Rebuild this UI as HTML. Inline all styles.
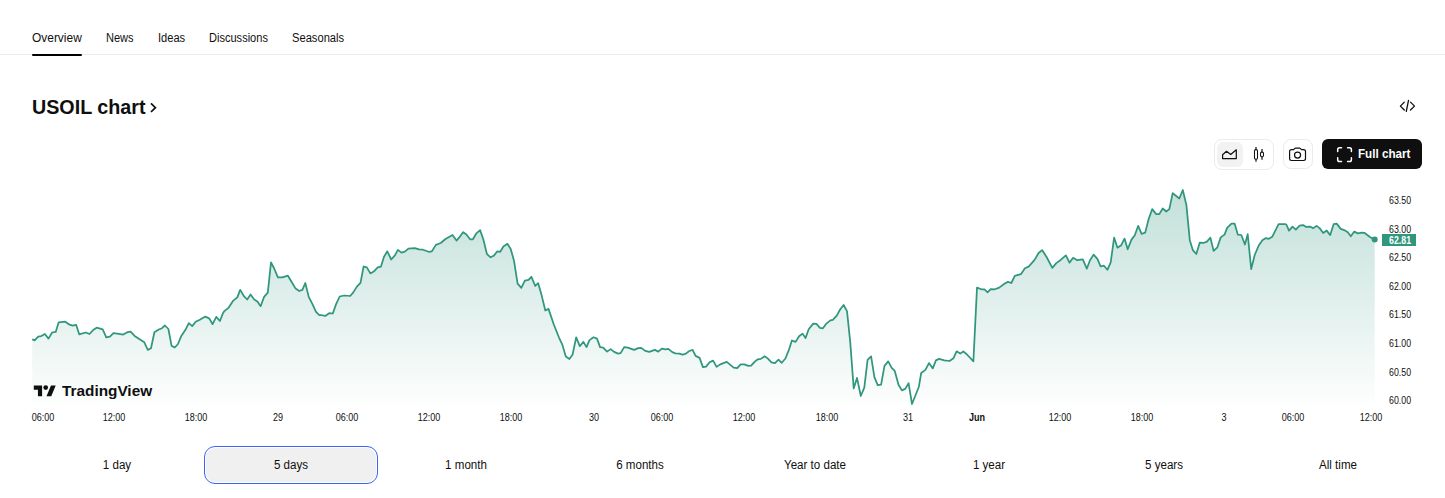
<!DOCTYPE html>
<html><head><meta charset="utf-8"><style>
html,body{margin:0;padding:0;background:#fff;}
body{width:1445px;height:498px;overflow:hidden;position:relative;font-family:"Liberation Sans", sans-serif;}
</style></head><body>
<div style="position:absolute;left:32px;top:32px;font-size:12px;font-weight:400;color:#0f0f0f;white-space:nowrap;line-height:1;transform:scaleX(0.995);transform-origin:0 0;">Overview</div>
<div style="position:absolute;left:105.5px;top:32px;font-size:12px;font-weight:400;color:#0f0f0f;white-space:nowrap;line-height:1;transform:scaleX(0.92);transform-origin:0 0;">News</div>
<div style="position:absolute;left:157.6px;top:32px;font-size:12px;font-weight:400;color:#0f0f0f;white-space:nowrap;line-height:1;transform:scaleX(0.925);transform-origin:0 0;">Ideas</div>
<div style="position:absolute;left:209.3px;top:32px;font-size:12px;font-weight:400;color:#0f0f0f;white-space:nowrap;line-height:1;transform:scaleX(0.92);transform-origin:0 0;">Discussions</div>
<div style="position:absolute;left:291.8px;top:32px;font-size:12px;font-weight:400;color:#0f0f0f;white-space:nowrap;line-height:1;transform:scaleX(0.93);transform-origin:0 0;">Seasonals</div>
<div style="position:absolute;left:0;top:54px;width:1445px;height:1px;background:#ebebeb"></div>
<div style="position:absolute;left:32px;top:54px;width:50px;height:2px;background:#000;border-radius:1px"></div>
<div style="position:absolute;left:32px;top:97px;font-size:20px;font-weight:700;color:#0f0f0f;white-space:nowrap;line-height:1;transform:scaleX(0.985);transform-origin:0 0;">USOIL chart</div>
<svg style="position:absolute;left:0;top:0" width="1445" height="498"><path d="M151,103.4 L155.4,107.7 L151,112" fill="none" stroke="#0f0f0f" stroke-width="1.7"/><path d="M1404.3,102.1 L1400.4,106.1 L1404.3,110 M1408.5,100.4 L1406.3,111.4 M1410.5,102.1 L1414.5,106.1 L1410.5,110" fill="none" stroke="#0f0f0f" stroke-width="1.3" stroke-linecap="round" stroke-linejoin="round"/></svg>
<div style="position:absolute;left:1214px;top:139px;width:58px;height:29px;border:1px solid #ebebeb;border-radius:8px"></div>
<div style="position:absolute;left:1217px;top:142px;width:26px;height:25px;background:#f2f2f2;border-radius:6px"></div>
<div style="position:absolute;left:1283px;top:139px;width:28px;height:28px;border:1px solid #ebebeb;border-radius:8px"></div>
<div style="position:absolute;left:1322px;top:139px;width:100px;height:30px;background:#0f0f0f;border-radius:6px"></div>
<div style="position:absolute;left:1357.5px;top:148px;font-size:12px;font-weight:700;color:#fff;white-space:nowrap;line-height:1;transform:scaleX(0.97);transform-origin:0 0;">Full chart</div>
<svg style="position:absolute;left:0;top:0" width="1445" height="498"><path d="M1222.6,158.6 L1222.6,154.7 L1226.5,151.3 L1230.7,154.5 L1236.3,149.8 L1236.3,158.6 Z" fill="none" stroke="#0f0f0f" stroke-width="1.2" stroke-linejoin="round"/><path d="M1256,147 V161.8 M1262,149.1 V159.8" stroke="#0f0f0f" stroke-width="1.2"/><rect x="1254.5" y="149.6" width="3" height="9.7" rx="1.3" fill="#fff" stroke="#0f0f0f" stroke-width="1.05"/><rect x="1260.5" y="152.1" width="3" height="4.6" rx="1.3" fill="#fff" stroke="#0f0f0f" stroke-width="1.05"/><path d="M1289.6,151.5 Q1289.6,149.6 1291.5,149.6 H1293.6 L1294.9,148.3 Q1295.1,148.1 1295.4,148.1 H1299.7 Q1300,148.1 1300.2,148.3 L1301.5,149.6 H1303.6 Q1305.5,149.6 1305.5,151.5 V158.6 Q1305.5,160.5 1303.6,160.5 H1291.5 Q1289.6,160.5 1289.6,158.6 Z" fill="none" stroke="#0f0f0f" stroke-width="1.2" stroke-linejoin="round"/><circle cx="1297.55" cy="155.1" r="3.05" fill="none" stroke="#0f0f0f" stroke-width="1.2"/><path d="M1337.7,151.5 V149.5 Q1337.7,147.7 1339.5,147.7 H1341.5 M1347.6,147.7 H1349.6 Q1351.4,147.7 1351.4,149.5 V151.5 M1351.4,157.7 V159.7 Q1351.4,161.5 1349.6,161.5 H1347.6 M1341.5,161.5 H1339.5 Q1337.7,161.5 1337.7,159.7 V157.7" fill="none" stroke="#fff" stroke-width="1.5" stroke-linecap="round"/></svg>
<svg style="position:absolute;left:0;top:0" width="1445" height="498">
<defs><linearGradient id="g" x1="0" y1="185" x2="0" y2="404" gradientUnits="userSpaceOnUse">
<stop offset="0" stop-color="#30967d" stop-opacity="0.30"/>
<stop offset="1" stop-color="#30967d" stop-opacity="0.01"/>
</linearGradient></defs>
<path d="M32.2,339.2 L34.6,340.4 L38.2,336.7 L41.3,336.1 L44.9,334.0 L48.5,338.6 L52.1,332.5 L55.7,331.9 L58.7,322.3 L65.3,321.7 L69.6,324.7 L72.6,325.7 L76.2,324.9 L79.2,334.3 L85.8,332.5 L89.4,334.0 L93.1,330.1 L96.7,327.7 L102.7,329.3 L106.3,337.3 L109.9,336.7 L113.5,333.1 L117.2,333.7 L123.2,334.6 L127.4,332.2 L130.6,331.7 L134.6,335.9 L144.3,342.3 L147.8,349.9 L151.0,348.3 L154.4,332.2 L158.8,329.5 L162.0,328.2 L164.9,325.5 L168.4,329.0 L171.6,345.9 L174.8,347.5 L178.0,344.0 L181.3,335.9 L185.3,330.1 L188.8,323.1 L192.2,326.1 L195.7,321.8 L199.8,319.7 L205.4,316.6 L209.4,318.6 L212.6,324.2 L216.3,316.9 L219.9,321.0 L223.1,312.9 L224.4,311.1 L228.4,307.9 L233.3,300.6 L237.3,297.4 L240.2,289.9 L243.7,295.8 L247.2,299.5 L250.6,294.5 L254.2,299.5 L257.4,301.4 L260.6,306.2 L264.1,296.9 L267.8,292.6 L271.0,262.4 L274.2,268.5 L277.9,277.3 L282.3,277.3 L287.9,275.7 L292.7,283.8 L295.6,288.6 L299.2,291.0 L302.4,289.9 L305.3,283.0 L308.8,297.1 L312.0,303.1 L316.0,311.9 L319.3,315.1 L320.7,315.0 L325.2,315.9 L329.2,313.2 L332.8,313.5 L336.1,304.1 L339.7,296.5 L344.2,295.5 L350.2,296.0 L353.3,292.4 L356.9,286.6 L360.5,282.8 L363.6,266.5 L366.8,267.4 L370.4,273.4 L373.7,271.6 L377.7,267.4 L380.9,266.7 L384.0,256.8 L387.3,251.3 L391.2,259.5 L394.9,255.3 L397.9,249.9 L401.5,252.6 L404.8,251.7 L408.4,248.6 L414.7,248.1 L419.0,249.4 L423.0,249.7 L428.7,251.8 L431.9,251.3 L435.9,244.9 L440.7,243.0 L445.5,239.0 L452.5,235.0 L456.5,240.6 L459.7,236.9 L463.2,232.1 L466.4,234.5 L470.1,239.3 L472.9,239.3 L476.1,233.7 L480.1,230.1 L483.3,239.3 L487.0,254.2 L490.6,257.3 L494.1,255.4 L497.3,251.3 L500.2,251.8 L503.4,246.5 L507.4,243.8 L510.7,248.9 L514.0,260.7 L517.6,283.6 L521.3,287.9 L524.9,280.7 L528.5,279.9 L531.4,276.8 L535.2,286.0 L538.1,283.1 L541.7,295.6 L545.3,310.5 L548.5,308.9 L553.8,324.5 L559.1,337.8 L562.2,344.3 L565.8,356.6 L569.4,359.0 L572.6,354.6 L576.2,337.3 L579.8,346.2 L583.4,341.9 L586.5,347.1 L589.5,340.1 L593.5,337.3 L597.0,338.6 L600.1,347.1 L603.1,347.6 L607.1,351.6 L610.6,349.1 L614.1,351.9 L618.1,353.6 L620.6,353.1 L624.2,347.1 L627.7,347.6 L634.2,349.9 L638.2,348.1 L641.2,347.9 L645.2,350.9 L649.3,351.9 L654.8,349.9 L658.3,351.6 L661.8,348.6 L665.3,349.3 L668.3,348.8 L672.3,352.1 L675.4,353.4 L679.4,353.6 L682.5,354.6 L685.5,353.9 L689.0,351.3 L692.6,349.8 L695.6,355.9 L699.6,357.9 L702.9,367.1 L706.1,366.6 L709.6,362.3 L713.1,360.6 L716.6,366.9 L720.2,364.4 L726.7,361.9 L733.7,367.7 L737.2,368.2 L740.7,364.3 L744.3,364.4 L748.3,365.9 L751.1,365.6 L754.8,361.6 L757.8,359.3 L760.8,358.9 L764.6,356.3 L767.9,358.6 L771.4,362.3 L774.9,363.1 L778.5,359.6 L781.7,362.8 L785.4,358.5 L788.7,350.4 L791.9,340.5 L795.6,341.9 L799.1,336.3 L802.6,333.6 L805.5,338.1 L808.7,329.2 L813.2,323.6 L816.4,323.9 L820.0,327.9 L822.9,328.3 L826.4,323.6 L830.4,320.4 L832.8,319.9 L836.8,315.6 L840.1,309.5 L843.6,305.0 L847.0,311.1 L850.2,341.6 L853.7,388.5 L857.0,377.9 L860.8,396.0 L864.3,387.7 L867.6,359.8 L871.1,356.4 L874.4,377.2 L877.7,385.2 L881.1,384.7 L884.5,365.9 L888.2,361.4 L891.7,367.8 L894.7,370.8 L898.5,384.7 L901.9,390.4 L905.2,388.9 L908.6,383.2 L912.0,404.0 L915.5,395.2 L918.8,387.0 L921.2,373.0 L925.4,369.9 L929.0,363.1 L932.8,368.4 L935.9,360.4 L939.1,358.9 L944.3,360.4 L949.6,361.0 L953.4,358.3 L956.6,351.3 L960.2,353.6 L963.3,351.5 L966.5,354.0 L973.4,361.4 L977.0,287.6 L981.2,289.3 L984.4,289.3 L987.6,292.3 L990.7,289.1 L994.9,289.3 L999.2,287.6 L1004.8,283.5 L1008.0,281.9 L1011.3,283.0 L1014.8,275.8 L1020.9,274.2 L1024.9,268.2 L1028.6,266.6 L1034.6,259.9 L1038.6,253.0 L1042.1,250.1 L1046.6,257.0 L1052.3,267.9 L1056.3,263.1 L1060.3,260.2 L1065.9,255.4 L1069.5,262.6 L1073.2,257.8 L1077.2,260.2 L1082.8,259.4 L1086.8,268.7 L1090.0,260.2 L1093.6,254.6 L1097.4,258.9 L1100.6,266.3 L1104.0,265.7 L1107.4,269.8 L1110.7,262.3 L1114.1,237.6 L1117.5,247.7 L1121.1,245.3 L1124.5,238.6 L1127.7,249.3 L1131.5,239.6 L1134.8,235.2 L1138.2,225.8 L1141.6,233.8 L1145.2,232.6 L1148.6,219.2 L1152.2,209.1 L1156.2,214.1 L1159.3,214.1 L1162.7,208.5 L1166.3,211.5 L1169.3,209.1 L1172.7,193.1 L1179.3,198.5 L1182.8,190.0 L1186.4,205.1 L1189.8,240.2 L1192.8,250.1 L1196.3,254.0 L1199.8,242.6 L1204.1,242.8 L1206.9,241.6 L1210.4,237.7 L1213.6,250.8 L1217.4,247.3 L1220.7,237.4 L1224.5,234.6 L1227.3,227.6 L1231.5,223.6 L1234.6,223.6 L1237.8,234.6 L1241.3,235.0 L1244.9,244.5 L1247.7,234.2 L1251.2,269.1 L1254.7,255.0 L1258.9,245.2 L1262.4,240.2 L1265.9,238.1 L1268.8,238.8 L1272.3,236.7 L1278.6,224.1 L1285.6,224.1 L1286.5,224.9 L1289.0,230.6 L1292.5,226.6 L1295.8,229.6 L1299.6,225.6 L1303.1,225.1 L1306.1,226.9 L1310.1,226.6 L1313.1,228.3 L1316.6,225.9 L1319.6,228.1 L1323.2,232.9 L1326.7,230.6 L1330.2,235.1 L1333.7,224.1 L1336.7,223.6 L1340.7,228.9 L1344.2,230.1 L1347.8,232.3 L1350.8,236.3 L1354.3,231.6 L1357.8,233.4 L1361.8,232.6 L1364.3,232.8 L1370.3,237.3 L1374.7,239.6 L1374.7,404 L32.2,404 Z" fill="url(#g)"/>
<path d="M32.2,339.2 L34.6,340.4 L38.2,336.7 L41.3,336.1 L44.9,334.0 L48.5,338.6 L52.1,332.5 L55.7,331.9 L58.7,322.3 L65.3,321.7 L69.6,324.7 L72.6,325.7 L76.2,324.9 L79.2,334.3 L85.8,332.5 L89.4,334.0 L93.1,330.1 L96.7,327.7 L102.7,329.3 L106.3,337.3 L109.9,336.7 L113.5,333.1 L117.2,333.7 L123.2,334.6 L127.4,332.2 L130.6,331.7 L134.6,335.9 L144.3,342.3 L147.8,349.9 L151.0,348.3 L154.4,332.2 L158.8,329.5 L162.0,328.2 L164.9,325.5 L168.4,329.0 L171.6,345.9 L174.8,347.5 L178.0,344.0 L181.3,335.9 L185.3,330.1 L188.8,323.1 L192.2,326.1 L195.7,321.8 L199.8,319.7 L205.4,316.6 L209.4,318.6 L212.6,324.2 L216.3,316.9 L219.9,321.0 L223.1,312.9 L224.4,311.1 L228.4,307.9 L233.3,300.6 L237.3,297.4 L240.2,289.9 L243.7,295.8 L247.2,299.5 L250.6,294.5 L254.2,299.5 L257.4,301.4 L260.6,306.2 L264.1,296.9 L267.8,292.6 L271.0,262.4 L274.2,268.5 L277.9,277.3 L282.3,277.3 L287.9,275.7 L292.7,283.8 L295.6,288.6 L299.2,291.0 L302.4,289.9 L305.3,283.0 L308.8,297.1 L312.0,303.1 L316.0,311.9 L319.3,315.1 L320.7,315.0 L325.2,315.9 L329.2,313.2 L332.8,313.5 L336.1,304.1 L339.7,296.5 L344.2,295.5 L350.2,296.0 L353.3,292.4 L356.9,286.6 L360.5,282.8 L363.6,266.5 L366.8,267.4 L370.4,273.4 L373.7,271.6 L377.7,267.4 L380.9,266.7 L384.0,256.8 L387.3,251.3 L391.2,259.5 L394.9,255.3 L397.9,249.9 L401.5,252.6 L404.8,251.7 L408.4,248.6 L414.7,248.1 L419.0,249.4 L423.0,249.7 L428.7,251.8 L431.9,251.3 L435.9,244.9 L440.7,243.0 L445.5,239.0 L452.5,235.0 L456.5,240.6 L459.7,236.9 L463.2,232.1 L466.4,234.5 L470.1,239.3 L472.9,239.3 L476.1,233.7 L480.1,230.1 L483.3,239.3 L487.0,254.2 L490.6,257.3 L494.1,255.4 L497.3,251.3 L500.2,251.8 L503.4,246.5 L507.4,243.8 L510.7,248.9 L514.0,260.7 L517.6,283.6 L521.3,287.9 L524.9,280.7 L528.5,279.9 L531.4,276.8 L535.2,286.0 L538.1,283.1 L541.7,295.6 L545.3,310.5 L548.5,308.9 L553.8,324.5 L559.1,337.8 L562.2,344.3 L565.8,356.6 L569.4,359.0 L572.6,354.6 L576.2,337.3 L579.8,346.2 L583.4,341.9 L586.5,347.1 L589.5,340.1 L593.5,337.3 L597.0,338.6 L600.1,347.1 L603.1,347.6 L607.1,351.6 L610.6,349.1 L614.1,351.9 L618.1,353.6 L620.6,353.1 L624.2,347.1 L627.7,347.6 L634.2,349.9 L638.2,348.1 L641.2,347.9 L645.2,350.9 L649.3,351.9 L654.8,349.9 L658.3,351.6 L661.8,348.6 L665.3,349.3 L668.3,348.8 L672.3,352.1 L675.4,353.4 L679.4,353.6 L682.5,354.6 L685.5,353.9 L689.0,351.3 L692.6,349.8 L695.6,355.9 L699.6,357.9 L702.9,367.1 L706.1,366.6 L709.6,362.3 L713.1,360.6 L716.6,366.9 L720.2,364.4 L726.7,361.9 L733.7,367.7 L737.2,368.2 L740.7,364.3 L744.3,364.4 L748.3,365.9 L751.1,365.6 L754.8,361.6 L757.8,359.3 L760.8,358.9 L764.6,356.3 L767.9,358.6 L771.4,362.3 L774.9,363.1 L778.5,359.6 L781.7,362.8 L785.4,358.5 L788.7,350.4 L791.9,340.5 L795.6,341.9 L799.1,336.3 L802.6,333.6 L805.5,338.1 L808.7,329.2 L813.2,323.6 L816.4,323.9 L820.0,327.9 L822.9,328.3 L826.4,323.6 L830.4,320.4 L832.8,319.9 L836.8,315.6 L840.1,309.5 L843.6,305.0 L847.0,311.1 L850.2,341.6 L853.7,388.5 L857.0,377.9 L860.8,396.0 L864.3,387.7 L867.6,359.8 L871.1,356.4 L874.4,377.2 L877.7,385.2 L881.1,384.7 L884.5,365.9 L888.2,361.4 L891.7,367.8 L894.7,370.8 L898.5,384.7 L901.9,390.4 L905.2,388.9 L908.6,383.2 L912.0,404.0 L915.5,395.2 L918.8,387.0 L921.2,373.0 L925.4,369.9 L929.0,363.1 L932.8,368.4 L935.9,360.4 L939.1,358.9 L944.3,360.4 L949.6,361.0 L953.4,358.3 L956.6,351.3 L960.2,353.6 L963.3,351.5 L966.5,354.0 L973.4,361.4 L977.0,287.6 L981.2,289.3 L984.4,289.3 L987.6,292.3 L990.7,289.1 L994.9,289.3 L999.2,287.6 L1004.8,283.5 L1008.0,281.9 L1011.3,283.0 L1014.8,275.8 L1020.9,274.2 L1024.9,268.2 L1028.6,266.6 L1034.6,259.9 L1038.6,253.0 L1042.1,250.1 L1046.6,257.0 L1052.3,267.9 L1056.3,263.1 L1060.3,260.2 L1065.9,255.4 L1069.5,262.6 L1073.2,257.8 L1077.2,260.2 L1082.8,259.4 L1086.8,268.7 L1090.0,260.2 L1093.6,254.6 L1097.4,258.9 L1100.6,266.3 L1104.0,265.7 L1107.4,269.8 L1110.7,262.3 L1114.1,237.6 L1117.5,247.7 L1121.1,245.3 L1124.5,238.6 L1127.7,249.3 L1131.5,239.6 L1134.8,235.2 L1138.2,225.8 L1141.6,233.8 L1145.2,232.6 L1148.6,219.2 L1152.2,209.1 L1156.2,214.1 L1159.3,214.1 L1162.7,208.5 L1166.3,211.5 L1169.3,209.1 L1172.7,193.1 L1179.3,198.5 L1182.8,190.0 L1186.4,205.1 L1189.8,240.2 L1192.8,250.1 L1196.3,254.0 L1199.8,242.6 L1204.1,242.8 L1206.9,241.6 L1210.4,237.7 L1213.6,250.8 L1217.4,247.3 L1220.7,237.4 L1224.5,234.6 L1227.3,227.6 L1231.5,223.6 L1234.6,223.6 L1237.8,234.6 L1241.3,235.0 L1244.9,244.5 L1247.7,234.2 L1251.2,269.1 L1254.7,255.0 L1258.9,245.2 L1262.4,240.2 L1265.9,238.1 L1268.8,238.8 L1272.3,236.7 L1278.6,224.1 L1285.6,224.1 L1286.5,224.9 L1289.0,230.6 L1292.5,226.6 L1295.8,229.6 L1299.6,225.6 L1303.1,225.1 L1306.1,226.9 L1310.1,226.6 L1313.1,228.3 L1316.6,225.9 L1319.6,228.1 L1323.2,232.9 L1326.7,230.6 L1330.2,235.1 L1333.7,224.1 L1336.7,223.6 L1340.7,228.9 L1344.2,230.1 L1347.8,232.3 L1350.8,236.3 L1354.3,231.6 L1357.8,233.4 L1361.8,232.6 L1364.3,232.8 L1370.3,237.3 L1374.7,239.6" fill="none" stroke="#30967d" stroke-width="1.75" stroke-linejoin="round"/>
<circle cx="1374.7" cy="239.6" r="3" fill="#30967d"/>
<rect x="1382" y="234" width="34" height="12" fill="#30967d"/>
<path d="M33.8,385.6 h8.3 v10.7 h-4.16 v-6.54 h-4.14 z M46.5,396.3 h4.75 l4.45,-10.7 h-4.75 z" fill="#0f0f0f"/>
<circle cx="45.7" cy="387.6" r="2.35" fill="#0f0f0f"/>
</svg>
<div style="position:absolute;left:61.7px;top:382.5px;font-size:15px;font-weight:700;color:#0f0f0f;white-space:nowrap;line-height:1;transform:scaleX(1.023);transform-origin:0 0;">TradingView</div>
<div style="position:absolute;left:1389.3px;top:196.1px;font-size:10px;font-weight:400;color:#0f0f0f;white-space:nowrap;line-height:1;transform:scaleX(0.88);transform-origin:0 0;">63.50</div>
<div style="position:absolute;left:1389.3px;top:225.1px;font-size:10px;font-weight:400;color:#0f0f0f;white-space:nowrap;line-height:1;transform:scaleX(0.88);transform-origin:0 0;">63.00</div>
<div style="position:absolute;left:1389.3px;top:253.1px;font-size:10px;font-weight:400;color:#0f0f0f;white-space:nowrap;line-height:1;transform:scaleX(0.88);transform-origin:0 0;">62.50</div>
<div style="position:absolute;left:1389.3px;top:281.6px;font-size:10px;font-weight:400;color:#0f0f0f;white-space:nowrap;line-height:1;transform:scaleX(0.88);transform-origin:0 0;">62.00</div>
<div style="position:absolute;left:1389.3px;top:310.1px;font-size:10px;font-weight:400;color:#0f0f0f;white-space:nowrap;line-height:1;transform:scaleX(0.88);transform-origin:0 0;">61.50</div>
<div style="position:absolute;left:1389.3px;top:339.1px;font-size:10px;font-weight:400;color:#0f0f0f;white-space:nowrap;line-height:1;transform:scaleX(0.88);transform-origin:0 0;">61.00</div>
<div style="position:absolute;left:1389.3px;top:368.1px;font-size:10px;font-weight:400;color:#0f0f0f;white-space:nowrap;line-height:1;transform:scaleX(0.88);transform-origin:0 0;">60.50</div>
<div style="position:absolute;left:1389.3px;top:396.1px;font-size:10px;font-weight:400;color:#0f0f0f;white-space:nowrap;line-height:1;transform:scaleX(0.88);transform-origin:0 0;">60.00</div>
<div style="position:absolute;left:1389.3px;top:235.7px;font-size:10px;font-weight:700;color:#fff;white-space:nowrap;line-height:1;transform:scaleX(0.88);transform-origin:0 0;">62.81</div>
<div style="position:absolute;left:2.799999999999997px;width:80px;text-align:center;top:412.8px;font-size:10.25px;line-height:1;color:#0f0f0f;transform:scaleX(0.88)">06:00</div>
<div style="position:absolute;left:73.6px;width:80px;text-align:center;top:412.8px;font-size:10.25px;line-height:1;color:#0f0f0f;transform:scaleX(0.88)">12:00</div>
<div style="position:absolute;left:156px;width:80px;text-align:center;top:412.8px;font-size:10.25px;line-height:1;color:#0f0f0f;transform:scaleX(0.88)">18:00</div>
<div style="position:absolute;left:237.89999999999998px;width:80px;text-align:center;top:412.8px;font-size:10.25px;line-height:1;color:#0f0f0f;transform:scaleX(0.88)">29</div>
<div style="position:absolute;left:306.8px;width:80px;text-align:center;top:412.8px;font-size:10.25px;line-height:1;color:#0f0f0f;transform:scaleX(0.88)">06:00</div>
<div style="position:absolute;left:388.8px;width:80px;text-align:center;top:412.8px;font-size:10.25px;line-height:1;color:#0f0f0f;transform:scaleX(0.88)">12:00</div>
<div style="position:absolute;left:471px;width:80px;text-align:center;top:412.8px;font-size:10.25px;line-height:1;color:#0f0f0f;transform:scaleX(0.88)">18:00</div>
<div style="position:absolute;left:553.7px;width:80px;text-align:center;top:412.8px;font-size:10.25px;line-height:1;color:#0f0f0f;transform:scaleX(0.88)">30</div>
<div style="position:absolute;left:621.8px;width:80px;text-align:center;top:412.8px;font-size:10.25px;line-height:1;color:#0f0f0f;transform:scaleX(0.88)">06:00</div>
<div style="position:absolute;left:704.3px;width:80px;text-align:center;top:412.8px;font-size:10.25px;line-height:1;color:#0f0f0f;transform:scaleX(0.88)">12:00</div>
<div style="position:absolute;left:786.8px;width:80px;text-align:center;top:412.8px;font-size:10.25px;line-height:1;color:#0f0f0f;transform:scaleX(0.88)">18:00</div>
<div style="position:absolute;left:868.3px;width:80px;text-align:center;top:412.8px;font-size:10.25px;line-height:1;color:#0f0f0f;transform:scaleX(0.88)">31</div>
<div style="position:absolute;left:936.8px;width:80px;text-align:center;top:412.8px;font-size:10.25px;line-height:1;color:#0f0f0f;font-weight:700;transform:scaleX(0.88)">Jun</div>
<div style="position:absolute;left:1019.5999999999999px;width:80px;text-align:center;top:412.8px;font-size:10.25px;line-height:1;color:#0f0f0f;transform:scaleX(0.88)">12:00</div>
<div style="position:absolute;left:1101.8px;width:80px;text-align:center;top:412.8px;font-size:10.25px;line-height:1;color:#0f0f0f;transform:scaleX(0.88)">18:00</div>
<div style="position:absolute;left:1183.8px;width:80px;text-align:center;top:412.8px;font-size:10.25px;line-height:1;color:#0f0f0f;transform:scaleX(0.88)">3</div>
<div style="position:absolute;left:1252.7px;width:80px;text-align:center;top:412.8px;font-size:10.25px;line-height:1;color:#0f0f0f;transform:scaleX(0.88)">06:00</div>
<div style="position:absolute;left:1331px;width:80px;text-align:center;top:412.8px;font-size:10.25px;line-height:1;color:#0f0f0f;transform:scaleX(0.88)">12:00</div>
<div style="position:absolute;left:204px;top:446px;width:172px;height:36px;border:1px solid #3a64f0;border-radius:11px;background:#fff"></div>
<div style="position:absolute;left:206px;top:448px;width:170px;height:34px;border-radius:9px;background:#f0f0f0"></div>
<div style="position:absolute;left:37.00px;width:160px;text-align:center;top:459px;font-size:12px;line-height:1;color:#0f0f0f;transform:scaleX(0.965)">1 day</div>
<div style="position:absolute;left:211.43px;width:160px;text-align:center;top:459px;font-size:12px;line-height:1;color:#0f0f0f;transform:scaleX(0.965)">5 days</div>
<div style="position:absolute;left:385.86px;width:160px;text-align:center;top:459px;font-size:12px;line-height:1;color:#0f0f0f;transform:scaleX(0.965)">1 month</div>
<div style="position:absolute;left:560.29px;width:160px;text-align:center;top:459px;font-size:12px;line-height:1;color:#0f0f0f;transform:scaleX(0.965)">6 months</div>
<div style="position:absolute;left:734.72px;width:160px;text-align:center;top:459px;font-size:12px;line-height:1;color:#0f0f0f;transform:scaleX(0.965)">Year to date</div>
<div style="position:absolute;left:909.15px;width:160px;text-align:center;top:459px;font-size:12px;line-height:1;color:#0f0f0f;transform:scaleX(0.965)">1 year</div>
<div style="position:absolute;left:1083.58px;width:160px;text-align:center;top:459px;font-size:12px;line-height:1;color:#0f0f0f;transform:scaleX(0.965)">5 years</div>
<div style="position:absolute;left:1258.01px;width:160px;text-align:center;top:459px;font-size:12px;line-height:1;color:#0f0f0f;transform:scaleX(0.965)">All time</div>
</body></html>
